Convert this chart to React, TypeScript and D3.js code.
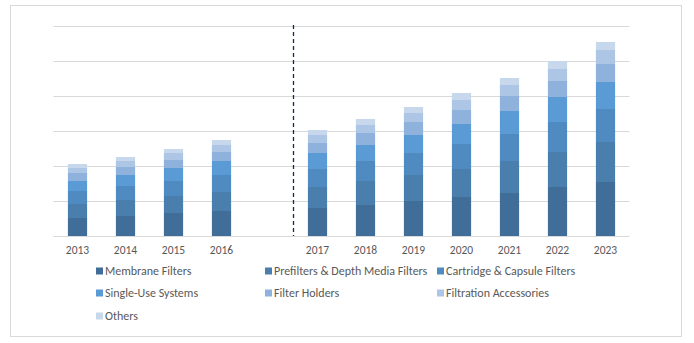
import React from "react";
import * as d3 from "d3";

const years = ["2013", "2014", "2015", "2016", "gap", "2017", "2018", "2019", "2020", "2021", "2022", "2023"];
const seriesNames = [
  "Membrane Filters",
  "Prefilters & Depth Media Filters",
  "Cartridge & Capsule Filters",
  "Single-Use Systems",
  "Filter Holders",
  "Filtration Accessories",
  "Others",
];
const membrane = [18, 20, 23, 25, 0, 28, 31, 35, 39, 43, 49, 54];
const prefilters = [14, 16, 17, 19, 0, 21, 24, 26, 28, 32, 35, 40];
const cartridge = [13, 14, 15, 17, 0, 18, 20, 22, 25, 27, 30, 33];
const singleUse = [10, 11, 13, 14, 0, 16, 16, 18, 20, 23, 25, 27];
const holders = [8, 8, 8, 9, 0, 10, 12, 13, 14, 15, 16, 18];
const accessories = [5, 6, 7, 7, 0, 8, 8, 9, 10, 11, 12, 14];
const others = [4, 4, 4, 5, 0, 5, 6, 6, 7, 7, 8, 8];
const yTicks = [0, 35, 70, 105, 140, 175, 210];

const colors = ["#416E98", "#4A7EAD", "#4F8BC0", "#5B9BD5", "#8EB2DC", "#AEC6E5", "#C8D8EC"];

export default function App() {
  const seriesValues = [membrane, prefilters, cartridge, singleUse, holders, accessories, others];
  const rows = years.map((y, i) => {
    const r: any = { year: y };
    seriesNames.forEach((s, k) => (r[s] = seriesValues[k][i]));
    return r;
  });
  const stack = d3.stack<any>().keys(seriesNames)(rows);

  const x = d3.scaleBand<string>().domain(years).range([53.5, 629.5]).paddingInner(0.6).paddingOuter(0.3);
  const y = d3.scaleLinear().domain([0, 210]).range([236, 26]);
  const bw = x.bandwidth();
  const dashX = ((x("gap")! + x("2017")!) / 2 + bw / 2);
  const font = "Calibri, Carlito, 'Open Sans', sans-serif";

  const legendCols = [96, 265, 437];
  const legendRows = [271, 293, 316];

  return (
    <svg width={694} height={343} style={{ position: "absolute", left: 0, top: 0 }}>
      <rect x={0} y={0} width={694} height={343} fill="#fff" />
      <rect x={10.5} y={5.5} width={671} height={331} fill="#fff" stroke="#d9d9d9" />
      {yTicks.map((t) => (
        <line key={t} x1={53.5} x2={629.5} y1={Math.round(y(t)) + 0.5} y2={Math.round(y(t)) + 0.5} stroke="#d9d9d9" strokeWidth={1} />
      ))}
      {stack.map((s, k) => (
        <g key={s.key} fill={colors[k]}>
          {s.map((d, i) =>
            years[i] === "gap" ? null : (
              <rect key={i} x={x(years[i])!} y={y(d[1])} width={bw} height={y(d[0]) - y(d[1])} />
            )
          )}
        </g>
      ))}
      <line x1={dashX} x2={dashX} y1={25} y2={236} stroke="#0E2A5A" strokeWidth={1.3} strokeDasharray="4 3" />
      {years.map((yr) =>
        yr === "gap" ? null : (
          <text key={yr} x={x(yr)! + bw / 2} y={254} textAnchor="middle" fontFamily={font} fontSize={11.5} fill="#595959">
            {yr}
          </text>
        )
      )}
      {seriesNames.map((s, k) => {
        const cx = legendCols[k % 3];
        const cy = legendRows[Math.floor(k / 3)];
        return (
          <g key={s}>
            <rect x={cx} y={cy - 3.5} width={7} height={7} fill={colors[k]} />
            <text x={cx + 9} y={cy + 4} fontFamily={font} fontSize={12} fill="#595959">
              {s}
            </text>
          </g>
        );
      })}
    </svg>
  );
}
